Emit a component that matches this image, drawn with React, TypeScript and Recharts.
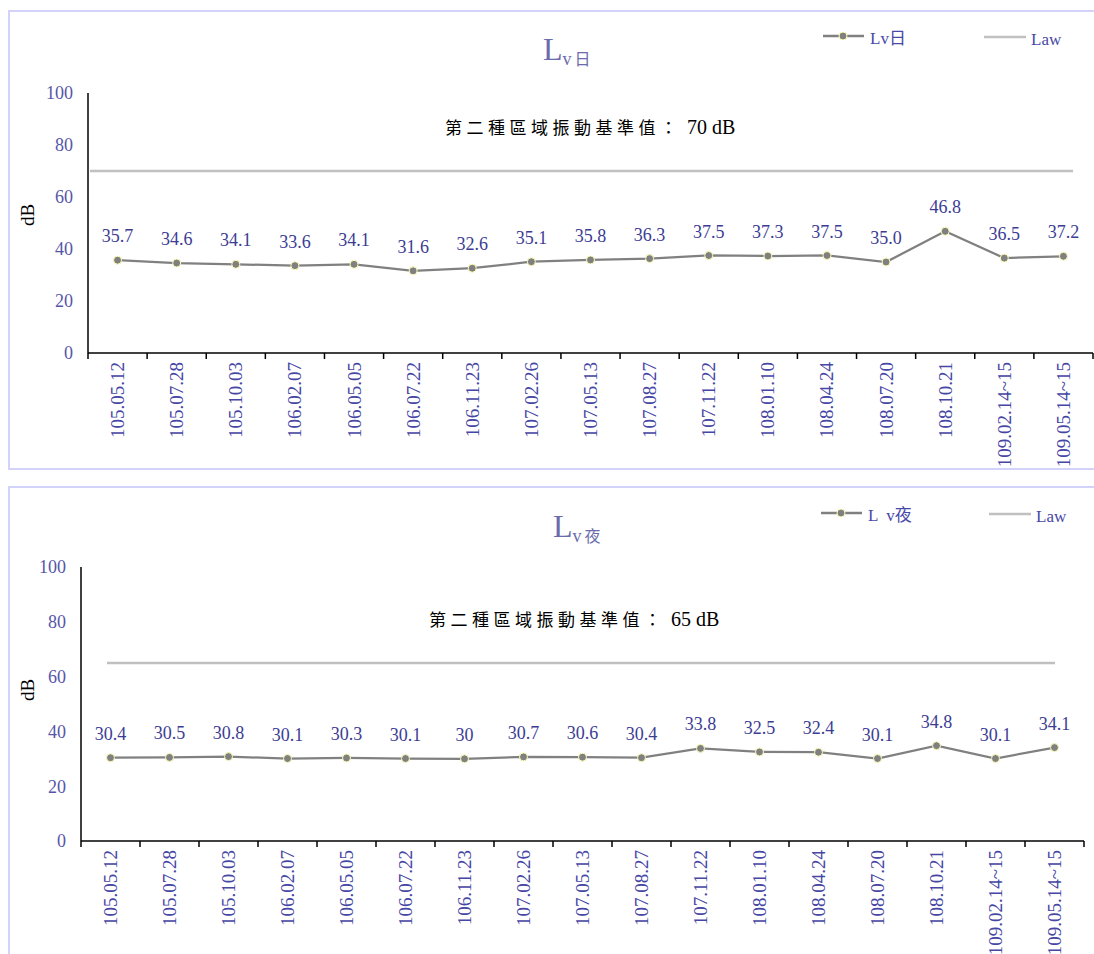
import React from 'react'
import { LineChart, Line, XAxis, YAxis, LabelList } from 'recharts'

const categories = [
  '105.05.12', '105.07.28', '105.10.03', '106.02.07', '106.05.05', '106.07.22',
  '106.11.23', '107.02.26', '107.05.13', '107.08.27', '107.11.22', '108.01.10',
  '108.04.24', '108.07.20', '108.10.21', '109.02.14~15', '109.05.14~15',
]
const dayValues = [35.7, 34.6, 34.1, 33.6, 34.1, 31.6, 32.6, 35.1, 35.8, 36.3, 37.5, 37.3, 37.5, 35.0, 46.8, 36.5, 37.2]
const nightValues = [30.4, 30.5, 30.8, 30.1, 30.3, 30.1, 30, 30.7, 30.6, 30.4, 33.8, 32.5, 32.4, 30.1, 34.8, 30.1, 34.1]
const dayLimit = 70
const nightLimit = 65
const yTicks = [0, 20, 40, 60, 80, 100]

const SERIF = "'Liberation Serif', 'Noto Sans CJK TC', serif"
const TICK_COLOR = '#4646a4'
const LABEL_COLOR = '#3c3c94'

const buildRows = (values: number[], limit: number) =>
  categories.map((c, i) => ({ label: c, idx: i, lv: values[i], law: limit }))

const XTick = (props: any) => {
  const { x, y, payload, index, step } = props
  const half = step / 2
  return (
    <g>
      <line x1={x - half} x2={x - half} y1={y} y2={y + 6} stroke="#000" strokeWidth={1.5} />
      {index === categories.length - 1 && (
        <line x1={x + half} x2={x + half} y1={y} y2={y + 6} stroke="#000" strokeWidth={1.5} />
      )}
      <text
        transform={`translate(${x},${y + 9}) rotate(-90)`}
        textAnchor="end"
        dominantBaseline="central"
        fill={TICK_COLOR}
        fontSize={19}
        fontFamily={SERIF}
      >
        {payload.value}
      </text>
    </g>
  )
}

interface ChartProps {
  values: number[]
  limit: number
  height: number
  plotLeft: number
  plotRight: number
  plotTop: number
  plotBottom: number
  lawPad: { left: number; right: number }
  fixed: boolean
}

function VibrationChart({ values, limit, height, plotLeft, plotRight, plotTop, plotBottom, lawPad, fixed }: ChartProps) {
  const rows = buildRows(values, limit)
  const step = (plotRight - plotLeft) / categories.length
  return (
    <LineChart
      width={1094}
      height={height}
      data={rows}
      margin={{ left: plotLeft - 40, right: 1094 - plotRight, top: plotTop, bottom: height - plotBottom - 100 }}
    >
      <XAxis
        dataKey="label"
        interval={0}
        height={100}
        padding={{ left: step / 2, right: step / 2 }}
        axisLine={{ stroke: '#000', strokeWidth: 1.5 }}
        tickLine={false}
        tickSize={0}
        tickMargin={0}
        tick={<XTick step={step} />}
      />
      <XAxis xAxisId="law" type="number" dataKey="idx" domain={[0, categories.length - 1]} hide padding={lawPad} />
      <YAxis
        width={40}
        domain={[0, 100]}
        ticks={yTicks}
        axisLine={{ stroke: '#000', strokeWidth: 1.5 }}
        tickLine={false}
        tickSize={0}
        tickMargin={15}
        tick={{ fill: '#5656a8', fontSize: 18, fontFamily: SERIF }}
      />
      <Line
        xAxisId="law"
        dataKey="law"
        stroke="#c0c0c0"
        strokeWidth={2.5}
        dot={false}
        isAnimationActive={false}
      />
      <Line
        dataKey="lv"
        stroke="#808080"
        strokeWidth={2.25}
        dot={{ r: 4, fill: '#808080', stroke: '#ffffb8', strokeWidth: 1 }}
        isAnimationActive={false}
      >
        <LabelList
          dataKey="lv"
          position="top"
          offset={18}
          fill={LABEL_COLOR}
          fontSize={18}
          fontFamily={SERIF}
          formatter={(v: any) => (fixed ? Number(v).toFixed(1) : String(v))}
        />
      </Line>
    </LineChart>
  )
}

function Legend({ x, y, name }: { x: number; y: number; name: string }) {
  return (
    <g>
      <line x1={x} x2={x + 41} y1={y} y2={y} stroke="#808080" strokeWidth={2.5} />
      <circle cx={x + 20} cy={y} r={4} fill="#808080" stroke="#ffffb8" strokeWidth={1} />
      <text x={x + 47} y={y + 8} fontSize={17} fill="#4848a8" fontFamily={SERIF} style={{ whiteSpace: 'pre' }}>{name}</text>
    </g>
  )
}

function Standard({ x, y, value }: { x: number; y: number; value: string }) {
  return (
    <g>
      <text x={x} y={y} fontSize={17} fill="#000" fontFamily={SERIF} textLength={232} lengthAdjust="spacing">
        第二種區域振動基準值：
      </text>
      <text x={x + 242} y={y} fontSize={20} fill="#000" fontFamily={SERIF}>
        {value}
      </text>
    </g>
  )
}

export default function App() {
  return (
    <div style={{ position: 'absolute', left: 0, top: 0, width: 1094, height: 954, overflow: 'hidden', background: '#fff' }}>
      <div style={{ position: 'absolute', left: 8, top: 10, width: 1100, height: 456, border: '2px solid #d2d2fa' }} />
      <div style={{ position: 'absolute', left: 8, top: 486, width: 1100, height: 500, border: '2px solid #d2d2fa' }} />

      <div style={{ position: 'absolute', left: 0, top: 0 }}>
        <VibrationChart
          values={dayValues}
          limit={dayLimit}
          height={470}
          plotLeft={88}
          plotRight={1093}
          plotTop={93}
          plotBottom={353}
          lawPad={{ left: 2, right: 20 }}
          fixed
        />
      </div>
      <div style={{ position: 'absolute', left: 0, top: 470 }}>
        <VibrationChart
          values={nightValues}
          limit={nightLimit}
          height={484}
          plotLeft={81}
          plotRight={1084}
          plotTop={97}
          plotBottom={371}
          lawPad={{ left: 26, right: 29 }}
          fixed={false}
        />
      </div>

      <svg width={1094} height={954} style={{ position: 'absolute', left: 0, top: 0, pointerEvents: 'none' }}>
        {/* top chart */}
        <text x={543} y={60} fontSize={32} fill="#6c6cac" fontFamily={SERIF}>
          L<tspan fontSize={18} dy={5}>v</tspan>
          <tspan fontSize={16} dx={3}>日</tspan>
        </text>
        <Legend x={823} y={36} name="Lv日" />
        <line x1={984} x2={1026} y1={37} y2={37} stroke="#c0c0c0" strokeWidth={2.5} />
        <text x={1031} y={45} fontSize={17} fill="#4848a8" fontFamily={SERIF}>Law</text>
        <Standard x={445} y={134} value="70 dB" />
        <text transform="translate(34,215) rotate(-90)" textAnchor="middle" fontSize={19} fill="#000" fontFamily={SERIF}>dB</text>

        {/* bottom chart */}
        <text x={553} y={537} fontSize={32} fill="#6c6cac" fontFamily={SERIF}>
          L<tspan fontSize={18} dy={5}>v</tspan>
          <tspan fontSize={16} dx={3}>夜</tspan>
        </text>
        <Legend x={821} y={513} name="L  v夜" />
        <line x1={989} x2={1031} y1={514} y2={514} stroke="#c0c0c0" strokeWidth={2.5} />
        <text x={1036} y={522} fontSize={17} fill="#4848a8" fontFamily={SERIF}>Law</text>
        <Standard x={429} y={626} value="65 dB" />
        <text transform="translate(34,690) rotate(-90)" textAnchor="middle" fontSize={19} fill="#000" fontFamily={SERIF}>dB</text>
      </svg>
    </div>
  )
}
